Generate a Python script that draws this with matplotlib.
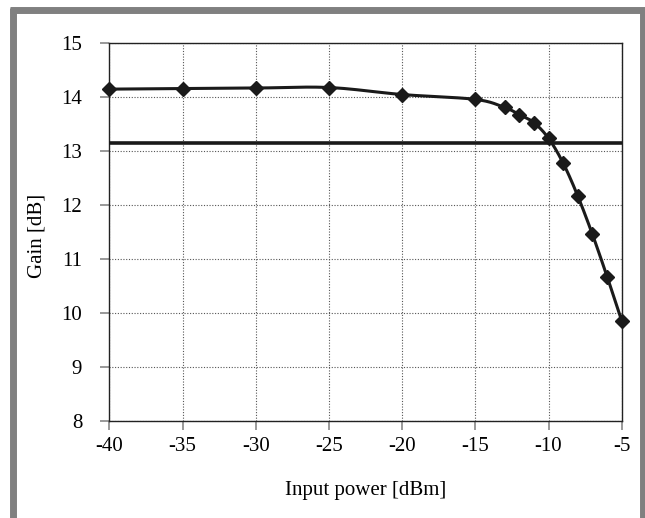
import numpy as np
import matplotlib
matplotlib.use("Agg")
import matplotlib.pyplot as plt
from matplotlib.lines import Line2D

plt.rcParams["font.family"] = ["Liberation Serif", "DejaVu Serif"]

# data
power_dbm = [-40, -35, -30, -25, -20, -15, -13, -12, -11, -10, -9, -8, -7, -6, -5]
gain_db = [14.14, 14.15, 14.16, 14.17, 14.04, 13.95, 13.80, 13.67, 13.52,
           13.23, 12.77, 12.16, 11.45, 10.67, 9.85]
ref_level = 13.15   # horizontal reference line (1 dB compression)
xticks = [-40, -35, -30, -25, -20, -15, -10, -5]
yticks = [8, 9, 10, 11, 12, 13, 14, 15]


def smooth(x, y, n=30, tension=0.5):
    # cardinal spline through the points, like a spreadsheet "smoothed line"
    x = np.asarray(x, float)
    y = np.asarray(y, float)
    px = np.concatenate([[x[0]], x, [x[-1]]])
    py = np.concatenate([[y[0]], y, [y[-1]]])
    xs, ys = [], []
    t = np.linspace(0, 1, n)
    for i in range(1, len(px) - 2):
        m1x = tension * (px[i + 1] - px[i - 1])
        m1y = tension * (py[i + 1] - py[i - 1])
        m2x = tension * (px[i + 2] - px[i])
        m2y = tension * (py[i + 2] - py[i])
        h00 = 2 * t**3 - 3 * t**2 + 1
        h10 = t**3 - 2 * t**2 + t
        h01 = -2 * t**3 + 3 * t**2
        h11 = t**3 - t**2
        xs.append(h00 * px[i] + h10 * m1x + h01 * px[i + 1] + h11 * m2x)
        ys.append(h00 * py[i] + h10 * m1y + h01 * py[i + 1] + h11 * m2y)
    return np.concatenate(xs), np.concatenate(ys)


fig = plt.figure(figsize=(6.45, 5.18), dpi=100)
ax = fig.add_axes([0.1695, 0.1878, 0.7944, 0.7298])

ax.set_xlim(-40, -5)
ax.set_ylim(8, 15)
ax.set_xticks(xticks)
ax.set_yticks(yticks)
ax.set_xticklabels([str(v) for v in xticks], fontsize=15)
ax.set_yticklabels([str(v) for v in yticks], fontsize=15)

ax.grid(True, color="#555555", linestyle=(0, (1, 1.5)), linewidth=0.8)
ax.set_axisbelow(True)

ax.tick_params(direction="out", length=6.5, width=1.2, color="#888888")
ax.tick_params(axis="y", pad=13)
ax.tick_params(axis="x", pad=5)
for s in ax.spines.values():
    s.set_color("#222222")
    s.set_linewidth(1.0)

ax.axhline(ref_level, color="#1a1a1a", linewidth=2.6, zorder=3)

sx, sy = smooth(power_dbm, gain_db)
ax.plot(sx, sy, color="#1a1a1a", linewidth=2.2, zorder=4, clip_on=False)
ax.plot(power_dbm, gain_db, linestyle="none", marker="D", markersize=7.5,
        color="#1a1a1a", zorder=5, clip_on=False)

ax.set_xlabel("Input power [dBm]", fontsize=15, va="center")
ax.set_ylabel("Gain [dB]", fontsize=15, va="center")
ax.xaxis.set_label_coords(0.5, -0.185)
ax.yaxis.set_label_coords(-0.141, 0.49)

# gray frame around the figure
frame = dict(color="#808080", linewidth=5, transform=fig.transFigure,
             solid_capstyle="butt")
fig.add_artist(Line2D([10 / 645, 1], [1 - 10 / 518] * 2, **frame))
fig.add_artist(Line2D([12.5 / 645] * 2, [0, 1 - 7.5 / 518], **frame))
fig.add_artist(Line2D([642.5 / 645] * 2, [0, 1 - 7.5 / 518], **frame))

fig.savefig("out.png", dpi=100)
